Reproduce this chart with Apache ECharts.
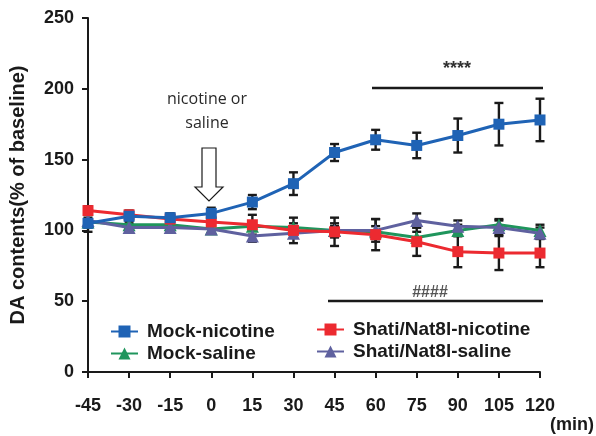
<!DOCTYPE html>
<html><head><meta charset="utf-8">
<script src="https://cdn.jsdelivr.net/npm/echarts@6/dist/echarts.min.js"></script>
<style>html,body{margin:0;padding:0;background:#fff}#c{width:596px;height:436px}</style>
</head><body><div id="c"></div>
<script>
var times = [-45,-30,-15,0,15,30,45,60,75,90,105,120];
var xTicks = [-45,-30,-15,0,15,30,45,60,75,90,105,120];
var yTicks = [0,50,100,150,200,250];
var mockNic    = [105,110,109,112,120,133,155,164,160,167,175,178];
var mockNicErr = [3,3,3,4,5,8,6,7,9,12,15,15];
var shatiNic    = [114,111,108,106,104,100,99,97,92,85,84,84];
var shatiNicErr = [3,3,3,3,7,9,10,11,10,11,12,10];
var mockSal    = [106,104,104,101,103,102,100,99,95,100,104,100];
var mockSalErr = [3,3,3,3,3,3,3,4,4,4,4,4];
var shatiSal    = [107,102,102,101,96,98,100,100,107,103,102,98];
var shatiSalErr = [8,3,3,3,4,3,5,8,5,4,5,4];
var names = ['Mock-nicotine','Shati/Nat8l-nicotine','Mock-saline','Shati/Nat8l-saline'];

var colors = {blue:'#1f63b5', red:'#ec2a30', green:'#1f955c', purple:'#5f619f'};
var FONT = '"Liberation Sans", Arial, sans-serif';

function pairs(v){ return times.map(function(t,i){return [t, v[i]];}); }
function errData(v,e){ return times.map(function(t,i){return [t, v[i]-e[i], v[i]+e[i]];}); }

function errSeries(v,e){
  return {
    type:'custom', silent:true, z:1,
    data: errData(v,e),
    renderItem: function(params, api){
      var x = api.value(0);
      var lo = api.coord([x, api.value(1)]);
      var hi = api.coord([x, api.value(2)]);
      var w = 4.5;
      var st = {stroke:'#1a1a1a', lineWidth:2.4};
      return {type:'group', children:[
        {type:'line', shape:{x1:lo[0],y1:lo[1],x2:hi[0],y2:hi[1]}, style:st},
        {type:'line', shape:{x1:lo[0]-w,y1:lo[1],x2:lo[0]+w,y2:lo[1]}, style:st},
        {type:'line', shape:{x1:hi[0]-w,y1:hi[1],x2:hi[0]+w,y2:hi[1]}, style:st}
      ]};
    }
  };
}
function lineSeries(name, v, color, sym, size, z){
  return {
    name:name, type:'line', data:pairs(v), symbol:sym, symbolSize:size,
    lineStyle:{color:color, width:3}, itemStyle:{color:color}, z:z,
    emphasis:{disabled:true}, animation:false
  };
}
var legendText = {color:'#1a1a1a', fontSize:19, fontWeight:'bold', fontFamily:FONT, padding:[0,0,0,4]};

var chart = echarts.init(document.getElementById('c'), null, {renderer:'canvas'});
chart.setOption({
  animation:false,
  grid:{left:88, right:56, top:18, bottom:64, outerBoundsMode:'none'},
  xAxis:{
    type:'value', min:xTicks[0], max:xTicks[xTicks.length-1], interval:15,
    splitLine:{show:false},
    axisLine:{onZero:false, lineStyle:{color:'#1a1a1a', width:2}},
    axisTick:{show:true, length:6, lineStyle:{color:'#1a1a1a', width:2}},
    axisLabel:{margin:25, color:'#1a1a1a', fontSize:18, fontWeight:'bold', fontFamily:FONT}
  },
  yAxis:{
    type:'value', min:yTicks[0], max:yTicks[yTicks.length-1], interval:50,
    splitLine:{show:false},
    axisLine:{show:true, onZero:false, lineStyle:{color:'#1a1a1a', width:2}},
    axisTick:{show:true, length:6, lineStyle:{color:'#1a1a1a', width:2}},
    axisLabel:{margin:14, color:'#1a1a1a', fontSize:18, fontWeight:'bold', fontFamily:FONT},
    name:'DA contents(% of baseline)', nameLocation:'middle', nameGap:60,
    nameTextStyle:{color:'#1a1a1a', fontSize:20, fontWeight:'bold', fontFamily:FONT}
  },
  legend:[
    {data:[names[0], names[2]], orient:'vertical', left:105, top:317, itemGap:3,
     itemWidth:27, itemHeight:15, textStyle:legendText},
    {data:[names[1], names[3]], orient:'vertical', left:311, top:315, itemGap:3,
     itemWidth:27, itemHeight:15, textStyle:legendText}
  ],
  graphic:[
    {type:'text', style:{text:'nicotine or', x:207, y:99, align:'center', verticalAlign:'middle', font:'16px "Open Sans", sans-serif', fill:'#2a2a2a'}},
    {type:'text', style:{text:'saline', x:207, y:123, align:'center', verticalAlign:'middle', font:'16px "Open Sans", sans-serif', fill:'#2a2a2a'}},
    {type:'polygon', shape:{points:[[202,148],[216,148],[216,187],[223,187],[209,201],[195,187],[202,187]]}, style:{fill:'#fff', stroke:'#1a1a1a', lineWidth:1.2}},
    {type:'text', style:{text:'****', x:457, y:69, align:'center', verticalAlign:'middle', font:'bold 18px ' + FONT, fill:'#333'}},
    {type:'line', shape:{x1:372, y1:88, x2:543, y2:88}, style:{stroke:'#1a1a1a', lineWidth:2.5}},
    {type:'line', shape:{x1:328, y1:301, x2:543, y2:301}, style:{stroke:'#1a1a1a', lineWidth:2.5}},
    {type:'text', style:{text:'####', x:430, y:293, align:'center', verticalAlign:'middle', font:'bold 16px ' + FONT, fill:'#555'}},
    {type:'text', style:{text:'(min)', x:594, y:425, align:'right', verticalAlign:'middle', font:'bold 18px ' + FONT, fill:'#1a1a1a'}}
  ],
  series:[
    errSeries(mockSal, mockSalErr),
    errSeries(shatiSal, shatiSalErr),
    errSeries(shatiNic, shatiNicErr),
    errSeries(mockNic, mockNicErr),
    lineSeries(names[2], mockSal, colors.green, 'triangle', 13, 2),
    lineSeries(names[3], shatiSal, colors.purple, 'triangle', 13, 3),
    lineSeries(names[1], shatiNic, colors.red, 'rect', 11, 4),
    lineSeries(names[0], mockNic, colors.blue, 'rect', 11, 5)
  ]
});
</script></body></html>
